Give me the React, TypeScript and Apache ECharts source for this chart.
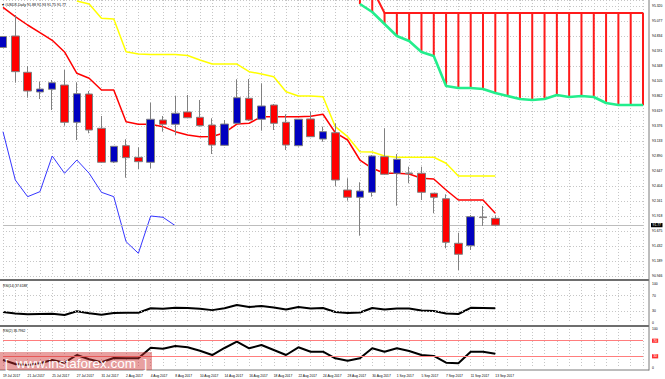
import { useEffect, useRef } from "react";
import * as echarts from "echarts";

// ---------- data ----------
const dates = [
  "19 Jul 2017", "20 Jul 2017", "21 Jul 2017", "24 Jul 2017", "25 Jul 2017", "26 Jul 2017", "27 Jul 2017",
  "28 Jul 2017", "31 Jul 2017", "1 Aug 2017", "2 Aug 2017", "3 Aug 2017", "4 Aug 2017", "7 Aug 2017",
  "8 Aug 2017", "9 Aug 2017", "10 Aug 2017", "11 Aug 2017", "14 Aug 2017", "15 Aug 2017", "16 Aug 2017",
  "17 Aug 2017", "18 Aug 2017", "21 Aug 2017", "22 Aug 2017", "23 Aug 2017", "24 Aug 2017", "25 Aug 2017",
  "28 Aug 2017", "29 Aug 2017", "30 Aug 2017", "31 Aug 2017", "1 Sep 2017", "4 Sep 2017", "5 Sep 2017",
  "6 Sep 2017", "7 Sep 2017", "8 Sep 2017", "11 Sep 2017", "12 Sep 2017", "13 Sep 2017",
];
const FUTURE_BARS = 12;

const opens = [94.648, 94.834, 94.246, 93.927, 93.971, 94.040, 93.436, 93.894, 93.339, 92.793, 93.057, 92.869, 92.788, 93.473, 93.404, 93.603, 93.517, 93.392, 93.063, 93.420, 93.825, 93.485, 93.716, 93.436, 93.057, 93.490, 93.165, 93.267, 92.339, 92.221, 92.302, 92.879, 92.610, 92.615, 92.610, 92.286, 92.198, 91.476, 91.437, 91.902, 91.88];
const highs = [94.834, 95.174, 94.348, 94.094, 94.121, 94.283, 94.084, 93.943, 93.538, 93.052, 93.161, 93.031, 93.753, 93.538, 93.867, 93.878, 93.797, 93.501, 93.473, 94.133, 94.137, 94.068, 93.732, 93.566, 93.490, 93.608, 93.365, 93.420, 92.529, 92.464, 92.906, 93.339, 92.922, 92.717, 92.717, 92.286, 92.269, 91.647, 91.934, 92.080, 91.93];
const lows = [94.640, 94.077, 93.834, 93.813, 93.635, 93.381, 93.149, 93.258, 92.777, 92.777, 92.538, 92.675, 92.691, 93.284, 93.230, 93.501, 93.365, 92.922, 93.052, 93.408, 93.457, 93.300, 93.311, 92.987, 93.044, 93.198, 93.122, 92.404, 92.166, 91.599, 92.231, 92.582, 92.085, 92.448, 92.177, 91.962, 91.395, 91.043, 91.367, 91.756, 91.75];
const closes = [94.826, 94.256, 93.943, 93.975, 94.077, 93.436, 93.899, 93.311, 92.788, 93.047, 92.863, 92.798, 93.485, 93.404, 93.582, 93.510, 93.381, 93.068, 93.408, 93.834, 93.473, 93.700, 93.420, 93.068, 93.485, 93.203, 93.284, 92.501, 92.221, 92.323, 92.890, 92.594, 92.837, 92.605, 92.302, 92.221, 91.492, 91.298, 91.907, 91.892, 91.77];

const tenkan = [95.299, 95.147, 95.012, 94.887, 94.764, 94.575, 94.230, 94.149, 93.959, 93.959, 93.446, 93.404, 93.404, 93.365, 93.284, 93.230, 93.203, 93.206, 93.267, 93.408, 93.420, 93.527, 93.527, 93.527, 93.527, 93.533, 93.566, 93.267, 93.149, 92.825, 92.691, 92.610, 92.610, 92.598, 92.529, 92.517, 92.339, 92.177, 92.177, 92.177, 91.962];
const kijun = [null, null, null, null, null, null, 95.401, 95.352, 95.121, 95.109, 94.580, 94.542, 94.534, 94.534, 94.534, 94.518, 94.445, 94.380, 94.380, 94.380, 94.256, 94.218, 94.175, 93.932, 93.862, 93.862, 93.851, 93.365, 93.203, 92.960, 92.955, 92.890, 92.869, 92.869, 92.869, 92.869, 92.772, 92.566, 92.566, 92.566, 92.566];
const chikou = [93.284, 92.501, 92.231, 92.312, 92.890, 92.610, 92.825, 92.610, 92.302, 92.231, 91.502, 91.314, 91.918, 91.897, 91.761];

const CLOUD_START = 29;
const senkouA = [95.352, 95.223, 95.028, 94.834, 94.753, 94.575, 94.510, 94.024, 93.992, 93.992, 93.975, 93.911, 93.862, 93.813, 93.797, 93.813, 93.878, 93.846, 93.862, 93.846, 93.749, 93.716, 93.716, 93.716];
const senkouB = [95.60, 95.60, 95.207, 95.207, 95.207, 95.207, 95.207, 95.207, 95.207, 95.207, 95.207, 95.207, 95.207, 95.207, 95.207, 95.207, 95.207, 95.207, 95.207, 95.207, 95.207, 95.207, 95.207, 95.207];

const rsi14 = [28.2, 24.4, 22.3, 23.1, 23.8, 20.5, 30.0, 24.9, 21.3, 25.6, 26.4, 26.4, 37.7, 36.7, 39.2, 38.5, 36.7, 33.0, 38.0, 46.0, 41.0, 43.6, 39.7, 34.6, 41.0, 37.2, 38.5, 28.2, 25.6, 26.9, 38.5, 34.6, 37.2, 37.2, 32.0, 30.8, 24.4, 23.1, 38.8, 38.5, 37.62];
const rsi2 = [20.5, 10.3, 7.7, 12.0, 20.5, 13.6, 33.3, 22.3, 14.6, 25.6, 24.9, 24.9, 52.0, 49.5, 56.4, 53.1, 44.4, 33.3, 51.3, 67.4, 50.5, 59.0, 46.2, 33.3, 53.1, 41.8, 41.8, 24.9, 18.7, 24.9, 50.5, 41.8, 50.5, 43.6, 33.3, 30.8, 13.6, 12.0, 41.8, 41.8, 36.80];

const priceMin = 90.946;
const priceMax = 95.417;
const priceStep = 0.243;
const rsiLevels = [30, 70];
const rsiScaleLabels = [0, 30, 70, 100];

const titleText = "\u25BE #USDX,Daily 91.88 91.93 91.75 91.77";
const rsi14Title = "RSI(14) 37.6188";
const rsi2Title = "RSI(2) 36.7962";
const watermark = "[  www.instaforex.com  ]";

const FONT = "'Liberation Sans', Arial, sans-serif";

export default function App() {
  const ref = useRef<HTMLDivElement>(null);
  useEffect(() => {
    if (!ref.current) return;
    const chart = echarts.init(ref.current, null, { renderer: "svg" });
    const n = dates.length + FUTURE_BARS;
    const cats = Array.from({ length: n }, (_, i) => (i < dates.length ? dates[i] : "f" + i));
    const pad = (arr: (number | null)[], start: number) =>
      Array.from({ length: n }, (_, i) => (i >= start && i - start < arr.length ? arr[i - start] : null));

    const candleData = opens.map((o, i) => [o, closes[i], lows[i], highs[i]]);
    const aFull = pad(senkouA, CLOUD_START);
    const bFull = pad(senkouB, CLOUD_START);
    const hatchBase = aFull;
    const hatchTop = aFull.map((a, i) => (a == null || bFull[i] == null ? null : +((bFull[i] as number) - a).toFixed(3)));

    const grid = { left: 3, right: 22, outerBoundsMode: "none" } as any;
    const split = { show: true, interval: 0, lineStyle: { color: "#c6c6c6", type: [1, 2], width: 1 } };
    const xAxisFor = (gridIndex: number, labels: boolean) => ({
      type: "category",
      gridIndex,
      data: cats,
      boundaryGap: false,
      axisLine: { show: false },
      axisTick: { show: false },
      splitLine: split,
      axisLabel: labels
        ? {
            show: true,
            interval: 0,
            align: "left",
            margin: 6.5,
            fontSize: 3.3,
            fontFamily: FONT,
            color: "#000",
            formatter: (_v: string, idx: number) => (idx < dates.length && idx % 2 === 0 ? dates[idx] : ""),
          }
        : { show: false },
    });
    const rsiAxis = (gridIndex: number, boxed: boolean) => ({
      type: "value",
      gridIndex,
      position: "right",
      offset: 6,
      min: 0,
      max: 100,
      interval: 10,
      axisLine: { show: false },
      axisTick: { show: false },
      splitLine: { show: false },
      axisLabel: {
        margin: 3,
        fontSize: 3.4,
        fontFamily: FONT,
        color: "#000",
        formatter: (v: number) => {
          if (!rsiScaleLabels.includes(Math.round(v))) return "";
          if (boxed && rsiLevels.includes(Math.round(v))) return "{r|" + Math.round(v) + "}";
          return String(Math.round(v));
        },
        rich: { r: { backgroundColor: "#ff3030", color: "#fff", fontSize: 3.4, padding: [0.6, 1.2], fontFamily: FONT } },
      },
    });

    const option: any = {
      animation: false,
      backgroundColor: "#fff",
      grid: [
        { ...grid, top: 0, height: 276 },
        { ...grid, top: 284, height: 39 },
        { ...grid, top: 329, height: 39 },
      ],
      xAxis: [xAxisFor(0, false), xAxisFor(1, false), xAxisFor(2, true)],
      yAxis: [
        {
          type: "value",
          gridIndex: 0,
          position: "right",
          offset: 6,
          min: priceMin,
          max: priceMax,
          interval: priceStep,
          axisLine: { show: false },
          axisTick: { show: false },
          splitLine: { show: true, lineStyle: { color: "#c6c6c6", type: [1, 2], width: 1 } },
          axisLabel: {
            margin: 3,
            fontSize: 3.4,
            fontFamily: FONT,
            color: "#000",
            formatter: (v: number) => (v > priceMax - priceStep / 3 ? "" : v.toFixed(3)),
          },
        },
        rsiAxis(1, false),
        rsiAxis(2, true),
      ],
      series: [
        { type: "bar", stack: "cloud", data: hatchBase, barWidth: 2, itemStyle: { color: "rgba(0,0,0,0)" }, silent: true, z: 1 },
        { type: "bar", stack: "cloud", data: hatchTop, barWidth: 2, itemStyle: { color: "#ff1a1a" }, silent: true, z: 1 },
        { type: "line", data: aFull, symbol: "none", lineStyle: { color: "#22ee8c", width: 2.6 }, z: 3 },
        { type: "line", data: bFull, symbol: "none", lineStyle: { color: "#ff1a1a", width: 2 }, z: 3 },
        { type: "line", data: pad(kijun, 0), symbol: "none", lineStyle: { color: "#ffff00", width: 1.5 }, z: 3 },
        { type: "line", data: pad(tenkan, 0), symbol: "none", lineStyle: { color: "#ff0000", width: 1.5 }, z: 3 },
        { type: "line", data: pad(chikou, 0), symbol: "none", lineStyle: { color: "#3535ff", width: 1 }, z: 3 },
        {
          type: "candlestick",
          data: candleData,
          barWidth: 8,
          z: 5,
          itemStyle: { color: "#0000c0", color0: "#ff0000", borderColor: "#808080", borderColor0: "#808080", borderWidth: 1 },
          markLine: {
            silent: true,
            symbol: "none",
            lineStyle: { color: "#bdbdbd", type: "solid", width: 1 },
            label: {
              show: true,
              position: "end",
              distance: 8,
              formatter: () => closes[closes.length - 1].toFixed(2),
              backgroundColor: "#000",
              color: "#fff",
              fontSize: 3.4,
              fontFamily: FONT,
              padding: [0.6, 1.5],
            },
            data: [{ yAxis: closes[closes.length - 1] }],
          },
        },
        {
          type: "line",
          xAxisIndex: 1,
          yAxisIndex: 1,
          data: pad(rsi14, 0),
          symbol: "none",
          lineStyle: { color: "#000", width: 2 },
          markLine: {
            silent: true,
            symbol: "none",
            label: { show: false },
            lineStyle: { color: "#c6c6c6", type: [1, 2], width: 1 },
            data: rsiLevels.map((v) => ({ yAxis: v })),
          },
        },
        {
          type: "line",
          xAxisIndex: 2,
          yAxisIndex: 2,
          data: pad(rsi2, 0),
          symbol: "none",
          lineStyle: { color: "#000", width: 2 },
          markLine: {
            silent: true,
            symbol: "none",
            label: { show: false },
            lineStyle: { color: "#ff7d7d", type: "solid", width: 1 },
            data: rsiLevels.map((v) => ({ yAxis: v })),
          },
        },
      ],
      graphic: [
        { type: "rect", shape: { x: 0, y: 279, width: 649, height: 2 }, style: { fill: "#6e6e6e" }, z: 50 },
        { type: "rect", shape: { x: 0, y: 325, width: 649, height: 2 }, style: { fill: "#6e6e6e" }, z: 50 },
        { type: "line", shape: { x1: 649, y1: 0, x2: 649, y2: 370.5 }, style: { stroke: "#7a7a7a", lineWidth: 1 }, z: 50 },
        { type: "line", shape: { x1: 0, y1: 370, x2: 649, y2: 370 }, style: { stroke: "#7a7a7a", lineWidth: 1 }, z: 50 },
        { type: "text", style: { text: titleText, x: 2, y: 5, fontSize: 3.6, fontFamily: FONT, fill: "#000", verticalAlign: "middle" }, z: 60 },
        { type: "text", style: { text: rsi14Title, x: 3, y: 286, fontSize: 3.3, fontFamily: FONT, fill: "#000", verticalAlign: "middle" }, z: 60 },
        { type: "text", style: { text: rsi2Title, x: 3, y: 331, fontSize: 3.3, fontFamily: FONT, fill: "#000", verticalAlign: "middle" }, z: 60 },
        { type: "rect", shape: { x: 0, y: 352, width: 152, height: 18 }, style: { fill: "rgba(205,45,45,0.45)" }, z: 100 },
        {
          type: "text",
          style: { text: watermark, x: 76, y: 363, align: "center", verticalAlign: "middle", fontSize: 13.5, fontFamily: FONT, fill: "#ffffff" },
          z: 101,
        },
      ],
    };
    chart.setOption(option);
    return () => chart.dispose();
  }, []);
  return <div ref={ref} style={{ position: "fixed", left: 0, top: 0, width: 665, height: 379, background: "#fff" }} />;
}
